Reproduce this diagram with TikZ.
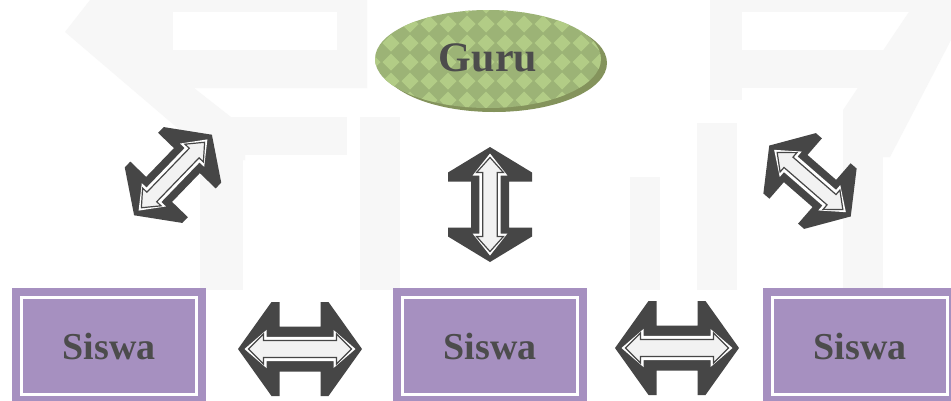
\documentclass[tikz,border=0pt]{standalone}
\usepackage{fontspec}
\setmainfont{Liberation Serif}
\definecolor{arrowdark}{RGB}{70,70,70}
\definecolor{arrowlight}{RGB}{242,242,242}
\definecolor{boxfill}{RGB}{166,144,192}
\definecolor{ovaldark}{RGB}{156,179,118}
\definecolor{ovallight}{RGB}{178,204,134}
\definecolor{ovalshadow}{RGB}{132,147,92}
\definecolor{labelgray}{RGB}{76,76,76}
\definecolor{watermark}{RGB}{247,247,247}

% block double arrow: #1 centre, #2 angle, #3 half length, #4 head corner,
% #5 head back, #6 head half width, #7 shaft half width
\newcommand{\twowayarrow}[7]{%
  \begin{scope}[shift={(#1)},rotate=#2]
    \pgfmathsetmacro\arwTi{#3-10.5}
    \pgfmathsetmacro\arwTb{\arwTi-15}
    \pgfmathsetmacro\arwH{0.32*#6}
    \pgfmathsetmacro\arwS{0.38*#7}
    \pgfmathsetmacro\arwWi{\arwTi+4}
    \pgfmathsetmacro\arwWb{\arwTb-3}
    \pgfmathsetmacro\arwWh{\arwH+4}
    \pgfmathsetmacro\arwWs{\arwS+3.5}
    \fill[arrowdark] (-#3,0) -- (-#4,-#6) -- (-#5,-#6) -- (-#5,-#7) -- (#5,-#7)
      -- (#5,-#6) -- (#4,-#6) -- (#3,0) -- (#4,#6) -- (#5,#6) -- (#5,#7)
      -- (-#5,#7) -- (-#5,#6) -- (-#4,#6) -- cycle;
    \fill[white] (-\arwWi,0) -- (-\arwWb,-\arwWh) -- (-\arwWb,-\arwWs)
      -- (\arwWb,-\arwWs) -- (\arwWb,-\arwWh) -- (\arwWi,0) -- (\arwWb,\arwWh)
      -- (\arwWb,\arwWs) -- (-\arwWb,\arwWs) -- (-\arwWb,\arwWh) -- cycle;
    \filldraw[innerarrow] (-\arwTi,0) -- (-\arwTb,-\arwH) -- (-\arwTb,-\arwS)
      -- (\arwTb,-\arwS) -- (\arwTb,-\arwH) -- (\arwTi,0) -- (\arwTb,\arwH)
      -- (\arwTb,\arwS) -- (-\arwTb,\arwS) -- (-\arwTb,\arwH) -- cycle;
  \end{scope}}

\begin{document}
\begin{tikzpicture}[x=1pt,y=-1pt,
  innerarrow/.style={fill=arrowlight,draw=arrowdark,line width=1.2pt,line join=miter},
  sisbox/.style={fill=boxfill,minimum width=194pt,minimum height=116pt,inner sep=0pt,
    text=labelgray,font=\fontsize{38}{44}\selectfont\bfseries},
  frameline/.style={draw=white,line width=3pt},
  gurutext/.style={text=labelgray,font=\fontsize{42}{48}\selectfont\bfseries,inner sep=0pt}]
\useasboundingbox (0,0) rectangle (951,400);
\clip (0,0) rectangle (951,400);
\fill[white] (0,0) rectangle (951,400);

% faint background emblem
\fill[watermark] (90,0) -- (367,0) -- (367,88) -- (194,88) -- (245,128)
  -- (245,160) -- (215,160) -- (65,32) -- cycle;
\fill[white] (173,12) rectangle (337,50);
\fill[watermark] (200,117) rectangle (243,290);
\fill[watermark] (243,117) rectangle (347,155);
\fill[watermark] (360,117) rectangle (400,290);
\fill[watermark] (710,0) rectangle (917,12);
\fill[watermark] (710,0) rectangle (742,100);
\fill[watermark] (742,50) rectangle (883,88);
\fill[watermark] (917,0) -- (951,0) -- (951,40) -- (890,157) -- (843,157) -- (843,110) -- cycle;
\fill[watermark] (630,177) rectangle (660,290);
\fill[watermark] (697,123) rectangle (737,290);
\fill[watermark] (843,110) rectangle (883,290);

% Guru oval with shadow and diamond pattern
\fill[ovalshadow] (494,63) ellipse [x radius=113, y radius=49];
\begin{scope}
  \path[clip] (488,59) ellipse [x radius=113, y radius=49];
  \fill[ovaldark] (375,10) rectangle (601,108);
  \foreach \i in {0,...,12} {
    \foreach \j in {0,...,6} {
      \fill[ovallight] (372+\i*19-8.5,5+\j*19) -- (372+\i*19,5+\j*19-8.5)
        -- (372+\i*19+8.5,5+\j*19) -- (372+\i*19,5+\j*19+8.5) -- cycle;
    }
  }
\end{scope}
\node[gurutext] (guru) at (488,58) {Guru};

% Siswa boxes with inner white frame
\node[sisbox] (s1) at (109,346) {Siswa};
\node[sisbox] (s2) at (490,346) {Siswa};
\node[sisbox] (s3) at (860,346) {Siswa};
\foreach \b in {s1,s2,s3} {
  \draw[frameline] ([shift={(9.5,9.5)}]\b.north west) rectangle ([shift={(-9.5,-9.5)}]\b.south east);
}

% arrow positions
\coordinate (aGL) at (173,175);
\coordinate (aGM) at (490,204.5);
\coordinate (aGR) at (810,181);
\coordinate (aSL) at (300,349);
\coordinate (aSR) at (677,348);

\twowayarrow{aGL}{46}{56}{28}{20}{40}{18}
\twowayarrow{aGM}{90}{57.5}{32}{23}{42}{19}
\twowayarrow{aGR}{-41}{54}{27}{19}{40}{18}
\twowayarrow{aSL}{0}{62}{28.5}{20.5}{47}{22.5}
\twowayarrow{aSR}{0}{62}{28.5}{20.5}{47}{22.5}
\end{tikzpicture}
\end{document}
